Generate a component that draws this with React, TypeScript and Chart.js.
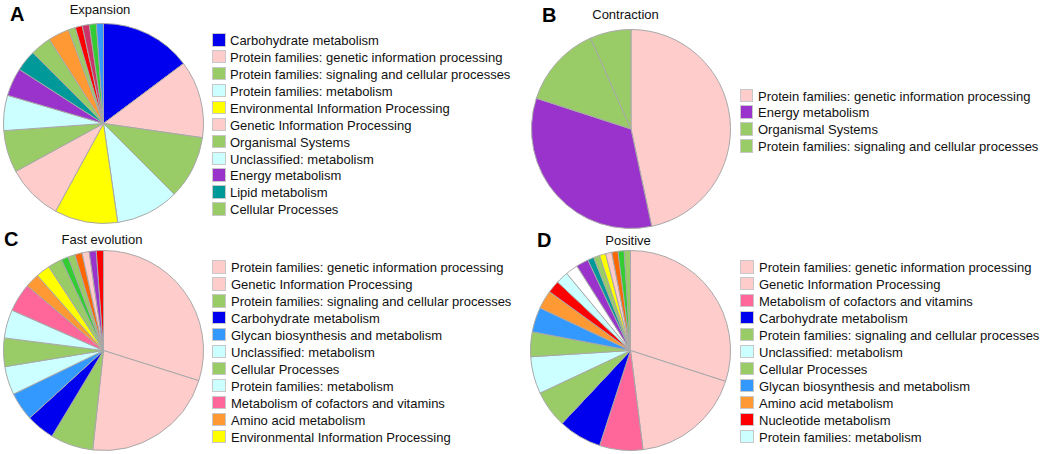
import React, { useEffect, useRef } from "react";
import { Chart, registerables } from "chart.js";

Chart.register(...registerables);

// Colours
const BLUE = "#0000ee";
const PINK = "#ffcccc";
const GREEN = "#99cc66";
const CYAN = "#ccffff";
const YELLOW = "#ffff00";
const PURPLE = "#9933cc";
const TEAL = "#009999";
const HOTPINK = "#ff6699";
const SKYBLUE = "#3399ff";
const ORANGE = "#ff9933";
const RED = "#ff0000";
const ORANGERED = "#ff6600";
const LIME = "#33cc33";
const CRIMSON = "#cc3366";
const WHITE = "#ffffff";

// Panel A: Expansion
const expansionLabels = [
  "Carbohydrate metabolism",
  "Protein families: genetic information processing",
  "Protein families: signaling and cellular processes",
  "Protein families: metabolism",
  "Environmental Information Processing",
  "Genetic Information Processing",
  "Organismal Systems",
  "Unclassified: metabolism",
  "Energy metabolism",
  "Lipid metabolism",
  "Cellular Processes",
  "Amino acid metabolism",
  "Other",
  "Nucleotide metabolism",
  "Other",
  "Other",
  "Glycan biosynthesis and metabolism",
];
const expansionValues = [13, 11, 9, 9, 9, 8, 6, 5, 4, 3, 3, 3, 1, 1, 1, 1, 1];
const expansionColors = [
  BLUE, PINK, GREEN, CYAN, YELLOW, PINK, GREEN, CYAN, PURPLE, TEAL, GREEN,
  ORANGE, GREEN, RED, CRIMSON, LIME, SKYBLUE,
];
const expansionLegendCount = 11;

// Panel B: Contraction
const contractionLabels = [
  "Protein families: genetic information processing",
  "Energy metabolism",
  "Organismal Systems",
  "Protein families: signaling and cellular processes",
];
const contractionValues = [7, 5, 2, 1];
const contractionColors = [PINK, PURPLE, GREEN, GREEN];
const contractionLegendCount = 4;

// Panel C: Fast evolution
const fastLabels = [
  "Protein families: genetic information processing",
  "Genetic Information Processing",
  "Protein families: signaling and cellular processes",
  "Carbohydrate metabolism",
  "Glycan biosynthesis and metabolism",
  "Unclassified: metabolism",
  "Cellular Processes",
  "Protein families: metabolism",
  "Metabolism of cofactors and vitamins",
  "Amino acid metabolism",
  "Environmental Information Processing",
  "Other",
  "Other",
  "Other",
  "Other",
  "Other",
  "Energy metabolism",
  "Nucleotide metabolism",
];
const fastValues = [26, 19, 6, 4, 4, 4, 4, 4, 4, 2, 2, 2, 1, 1, 1, 1, 1, 1];
const fastColors = [
  PINK, PINK, GREEN, BLUE, SKYBLUE, CYAN, GREEN, CYAN, HOTPINK, ORANGE, YELLOW,
  GREEN, LIME, GREEN, ORANGERED, PINK, PURPLE, RED,
];
const fastLegendCount = 11;

// Panel D: Positive
const positiveLabels = [
  "Protein families: genetic information processing",
  "Genetic Information Processing",
  "Metabolism of cofactors and vitamins",
  "Carbohydrate metabolism",
  "Protein families: signaling and cellular processes",
  "Unclassified: metabolism",
  "Cellular Processes",
  "Glycan biosynthesis and metabolism",
  "Amino acid metabolism",
  "Nucleotide metabolism",
  "Protein families: metabolism",
  "Other",
  "Energy metabolism",
  "Lipid metabolism",
  "Other",
  "Environmental Information Processing",
  "Other",
  "Other",
  "Other",
  "Other",
];
const positiveValues = [30, 18, 7, 7, 6, 6, 4, 4, 3, 2, 2, 2, 2, 1, 1, 1, 1, 1, 1, 1];
const positiveColors = [
  PINK, PINK, HOTPINK, BLUE, GREEN, CYAN, GREEN, SKYBLUE, ORANGE, RED, CYAN,
  WHITE, PURPLE, TEAL, GREEN, YELLOW, PINK, ORANGERED, LIME, GREEN,
];
const positiveLegendCount = 11;

const FONT = '"Liberation Sans", Arial, Helvetica, sans-serif';

type Layout = {
  cx: number;
  cy: number;
  r: number;
  letterX: number;
  letterBaseline: number;
  titleCx: number;
  titleBaseline: number;
  legendBoxX: number;
  legendTextX: number;
  legendFirstY: number;
  legendStep: number;
};

type PanelProps = {
  letter: string;
  title: string;
  labels: string[];
  values: number[];
  colors: string[];
  legendCount: number;
  layout: Layout;
};

function PiePanel({ letter, title, labels, values, colors, legendCount, layout }: PanelProps) {
  const ref = useRef<HTMLCanvasElement | null>(null);
  const size = layout.r * 2 + 2;

  useEffect(() => {
    if (!ref.current) return;
    const chart = new Chart(ref.current, {
      type: "pie",
      data: {
        labels,
        datasets: [
          {
            data: values,
            backgroundColor: colors,
            borderColor: "#a8a8a8",
            borderWidth: 1,
          },
        ],
      },
      options: {
        responsive: false,
        maintainAspectRatio: false,
        animation: false,
        layout: { padding: 0 },
        plugins: {
          legend: { display: false },
          tooltip: { enabled: false },
          title: { display: false },
        },
      },
    });
    return () => chart.destroy();
  }, []);

  const textStyle: React.CSSProperties = {
    position: "absolute",
    fontFamily: FONT,
    fontSize: 13,
    lineHeight: "13px",
    color: "#111",
    whiteSpace: "nowrap",
  };

  return (
    <>
      <div
        style={{
          position: "absolute",
          left: layout.letterX,
          top: layout.letterBaseline - 17,
          fontFamily: FONT,
          fontWeight: "bold",
          fontSize: 20,
          lineHeight: "20px",
          color: "#000",
        }}
      >
        {letter}
      </div>
      <div
        style={{
          ...textStyle,
          left: layout.titleCx - 100,
          width: 200,
          textAlign: "center",
          top: layout.titleBaseline - 11,
        }}
      >
        {title}
      </div>
      <canvas
        ref={ref}
        width={size}
        height={size}
        style={{
          position: "absolute",
          left: layout.cx - size / 2,
          top: layout.cy - size / 2,
          width: size,
          height: size,
        }}
      />
      {labels.slice(0, legendCount).map((lab, i) => {
        const yc = layout.legendFirstY + i * layout.legendStep;
        return (
          <React.Fragment key={i}>
            <div
              style={{
                position: "absolute",
                left: layout.legendBoxX,
                top: yc - 6.5,
                width: 11.5,
                height: 11.5,
                background: colors[i],
                border: "1px solid #c8c8c8",
              }}
            />
            <div style={{ ...textStyle, left: layout.legendTextX, top: yc + 5.5 - 11 }}>{lab}</div>
          </React.Fragment>
        );
      })}
    </>
  );
}

const layoutA: Layout = {
  cx: 103, cy: 123, r: 99.5,
  letterX: 10, letterBaseline: 21,
  titleCx: 100, titleBaseline: 13.5,
  legendBoxX: 212, legendTextX: 230, legendFirstY: 39.5, legendStep: 16.93,
};
const layoutB: Layout = {
  cx: 631, cy: 128.5, r: 99,
  letterX: 542, letterBaseline: 21.5,
  titleCx: 625.5, titleBaseline: 19.3,
  legendBoxX: 739.5, legendTextX: 758, legendFirstY: 95, legendStep: 16.93,
};
const layoutC: Layout = {
  cx: 103, cy: 350.5, r: 99.5,
  letterX: 4, letterBaseline: 246,
  titleCx: 102, titleBaseline: 244,
  legendBoxX: 212, legendTextX: 231, legendFirstY: 266.7, legendStep: 16.93,
};
const layoutD: Layout = {
  cx: 630, cy: 350.5, r: 99.5,
  letterX: 537, letterBaseline: 247,
  titleCx: 628, titleBaseline: 245,
  legendBoxX: 740, legendTextX: 759, legendFirstY: 266.5, legendStep: 16.98,
};

export default function App() {
  return (
    <div
      style={{
        position: "absolute",
        left: 0,
        top: 0,
        width: 1045,
        height: 454,
        background: "#ffffff",
        overflow: "hidden",
      }}
    >
      <PiePanel
        letter="A"
        title="Expansion"
        labels={expansionLabels}
        values={expansionValues}
        colors={expansionColors}
        legendCount={expansionLegendCount}
        layout={layoutA}
      />
      <PiePanel
        letter="B"
        title="Contraction"
        labels={contractionLabels}
        values={contractionValues}
        colors={contractionColors}
        legendCount={contractionLegendCount}
        layout={layoutB}
      />
      <PiePanel
        letter="C"
        title="Fast evolution"
        labels={fastLabels}
        values={fastValues}
        colors={fastColors}
        legendCount={fastLegendCount}
        layout={layoutC}
      />
      <PiePanel
        letter="D"
        title="Positive"
        labels={positiveLabels}
        values={positiveValues}
        colors={positiveColors}
        legendCount={positiveLegendCount}
        layout={layoutD}
      />
    </div>
  );
}
